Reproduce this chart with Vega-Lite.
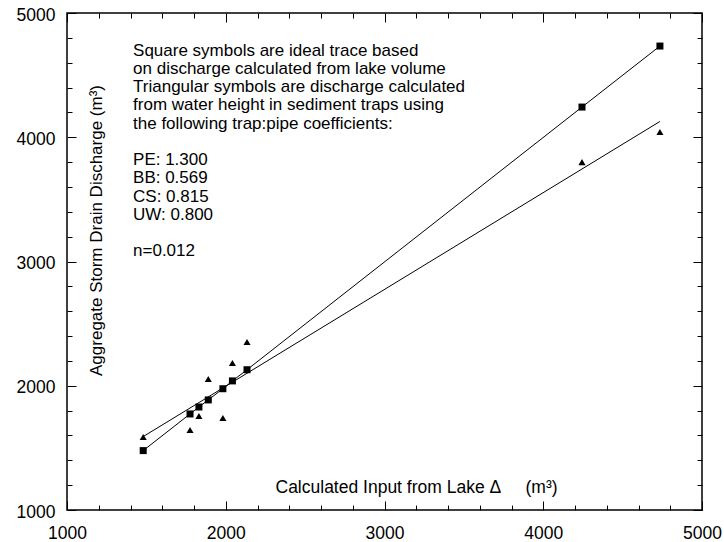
{
  "$schema": "https://vega.github.io/schema/vega-lite/v6.json",
  "width": 635,
  "height": 497,
  "autosize": {"type": "none"},
  "padding": {"left": 67, "top": 13, "right": 22, "bottom": 32},
  "background": "white",
  "config": {
    "view": {"stroke": "black", "strokeWidth": 1.5},
    "font": "Liberation Sans",
    "axis": {
      "grid": false,
      "domain": false,
      "ticks": true,
      "tickColor": "black",
      "tickWidth": 1,
      "labelColor": "black",
      "titleColor": "black",
      "labelFont": "Liberation Sans",
      "titleFont": "Liberation Sans",
      "titleFontWeight": "normal",
      "labelFontSize": 17.5,
      "titleFontSize": 17.5,
      "labelFlush": false,
      "labelOverlap": false,
      "format": "d"
    }
  },
  "datasets": {
    "squares": [
      {"x": 1480, "y": 1478},
      {"x": 1775, "y": 1773},
      {"x": 1831, "y": 1829},
      {"x": 1890, "y": 1886},
      {"x": 1982, "y": 1976},
      {"x": 2042, "y": 2039},
      {"x": 2134, "y": 2129},
      {"x": 4244, "y": 4243},
      {"x": 4735, "y": 4734}
    ],
    "triangles": [
      {"x": 1480, "y": 1588},
      {"x": 1775, "y": 1644},
      {"x": 1831, "y": 1757},
      {"x": 1890, "y": 2054},
      {"x": 1982, "y": 1740},
      {"x": 2042, "y": 2183},
      {"x": 2134, "y": 2352},
      {"x": 4244, "y": 3800},
      {"x": 4735, "y": 4042}
    ],
    "fit": [
      {"x": 1480, "y": 1591},
      {"x": 4735, "y": 4127}
    ],
    "note1": [
      {"lines": [
        "Square symbols are ideal trace based",
        "on discharge calculated from lake volume",
        "Triangular symbols are discharge calculated",
        "from water height in sediment traps using",
        "the following trap:pipe coefficients:"
      ]}
    ],
    "note2": [
      {"lines": ["PE: 1.300", "BB: 0.569", "CS: 0.815", "UW: 0.800"]}
    ],
    "note3": [
      {"lines": ["n=0.012"]}
    ]
  },
  "layer": [
    {
      "data": {"name": "squares"},
      "mark": {"type": "line", "color": "black", "strokeWidth": 1},
      "encoding": {
        "x": {
          "field": "x", "type": "quantitative",
          "scale": {"domain": [1000, 5000], "nice": false, "zero": false},
          "axis": {
            "orient": "bottom",
            "values": [1000, 2000, 3000, 4000, 5000],
            "offset": -9,
            "tickSize": 9,
            "labelPadding": 14,
            "title": "Calculated Input from Lake Δ\u00a0\u00a0\u00a0\u00a0\u00a0(m³)",
            "titleAnchor": "start",
            "titleAlign": "left",
            "titleX": 208,
            "titleY": -9,
            "titleBaseline": "alphabetic"
          }
        },
        "y": {
          "field": "y", "type": "quantitative",
          "scale": {"domain": [1000, 5000], "nice": false, "zero": false},
          "axis": {
            "orient": "left",
            "values": [1000, 2000, 3000, 4000, 5000],
            "offset": -9,
            "tickSize": 9,
            "labelPadding": 12,
            "labelOffset": 2,
            "title": "Aggregate Storm Drain Discharge (m³)",
            "titleFontSize": 17,
            "titleAngle": -90,
            "titleAlign": "center",
            "titleX": 25,
            "titleY": 217,
            "titleBaseline": "alphabetic"
          }
        }
      }
    },
    {
      "data": {"name": "fit"},
      "mark": {"type": "line", "color": "black", "strokeWidth": 1},
      "encoding": {
        "x": {
          "field": "x", "type": "quantitative",
          "scale": {"domain": [1000, 5000], "nice": false, "zero": false},
          "axis": {
            "orient": "top",
            "values": [1000, 2000, 3000, 4000, 5000],
            "offset": -9,
            "tickSize": 9,
            "labels": false,
            "title": null
          }
        },
        "y": {
          "field": "y", "type": "quantitative",
          "scale": {"domain": [1000, 5000], "nice": false, "zero": false},
          "axis": {
            "orient": "right",
            "values": [1000, 2000, 3000, 4000, 5000],
            "offset": -9,
            "tickSize": 9,
            "labels": false,
            "title": null
          }
        }
      }
    },
    {
      "data": {"name": "squares"},
      "mark": {"type": "point", "shape": "square", "filled": true, "color": "black", "size": 49, "opacity": 1},
      "encoding": {
        "x": {
          "field": "x", "type": "quantitative",
          "axis": {
            "orient": "bottom",
            "values": [1200,1400,1600,1800,2200,2400,2600,2800,3200,3400,3600,3800,4200,4400,4600,4800],
            "offset": -5,
            "tickSize": 5,
            "labels": false,
            "title": null
          }
        },
        "y": {
          "field": "y", "type": "quantitative",
          "axis": {
            "orient": "left",
            "values": [1200,1400,1600,1800,2200,2400,2600,2800,3200,3400,3600,3800,4200,4400,4600,4800],
            "offset": -5,
            "tickSize": 5,
            "labels": false,
            "title": null
          }
        }
      }
    },
    {
      "data": {"name": "triangles"},
      "mark": {"type": "point", "shape": "triangle-up", "filled": true, "color": "black", "size": 50, "opacity": 1},
      "encoding": {
        "x": {
          "field": "x", "type": "quantitative",
          "axis": {
            "orient": "top",
            "values": [1200,1400,1600,1800,2200,2400,2600,2800,3200,3400,3600,3800,4200,4400,4600,4800],
            "offset": -5,
            "tickSize": 5,
            "labels": false,
            "title": null
          }
        },
        "y": {
          "field": "y", "type": "quantitative",
          "axis": {
            "orient": "right",
            "values": [1200,1400,1600,1800,2200,2400,2600,2800,3200,3400,3600,3800,4200,4400,4600,4800],
            "offset": -5,
            "tickSize": 5,
            "labels": false,
            "title": null
          }
        }
      }
    },
    {
      "data": {"name": "note1"},
      "mark": {"type": "text", "align": "left", "baseline": "top", "fontSize": 17, "lineHeight": 18.25, "color": "black", "font": "Liberation Sans"},
      "encoding": {
        "x": {"datum": 1416, "type": "quantitative", "axis": null},
        "y": {"datum": 4762, "type": "quantitative", "axis": null},
        "text": {"field": "lines"}
      }
    },
    {
      "data": {"name": "note2"},
      "mark": {"type": "text", "align": "left", "baseline": "top", "fontSize": 17, "lineHeight": 18.25, "color": "black", "font": "Liberation Sans"},
      "encoding": {
        "x": {"datum": 1416, "type": "quantitative", "axis": null},
        "y": {"datum": 3880, "type": "quantitative", "axis": null},
        "text": {"field": "lines"}
      }
    },
    {
      "data": {"name": "note3"},
      "mark": {"type": "text", "align": "left", "baseline": "top", "fontSize": 17, "lineHeight": 18.25, "color": "black", "font": "Liberation Sans"},
      "encoding": {
        "x": {"datum": 1416, "type": "quantitative", "axis": null},
        "y": {"datum": 3146, "type": "quantitative", "axis": null},
        "text": {"field": "lines"}
      }
    }
  ],
  "resolve": {"axis": {"x": "independent", "y": "independent"}}
}
